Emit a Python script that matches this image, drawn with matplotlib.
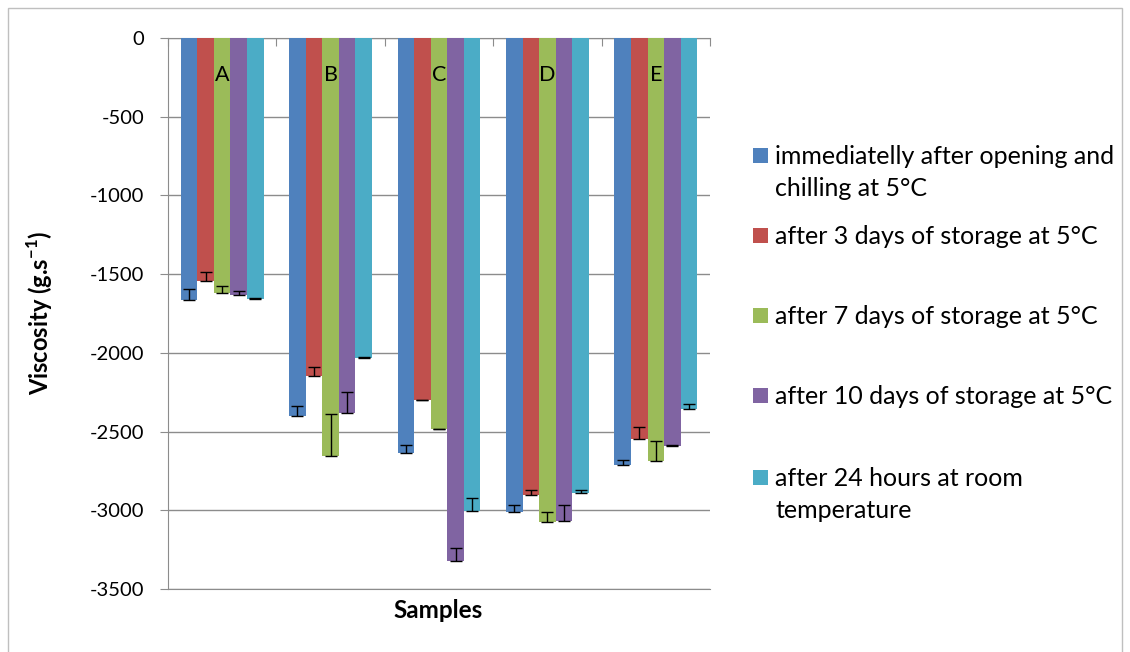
#!/usr/bin/env python3

import matplotlib
matplotlib.use('Agg')

import matplotlib.pyplot as plt
import numpy as np
from matplotlib.patches import Rectangle


samples = ['A', 'B', 'C', 'D', 'E']

series_labels = [
    'immediatelly after opening and\nchilling at 5°C',
    'after 3 days of storage at 5°C',
    'after 7 days of storage at 5°C',
    'after 10 days of storage at 5°C',
    'after 24 hours at room\ntemperature',
]

visc_open = [-1665, -2400, -2635, -3010, -2710]
visc_3d = [-1545, -2150, -2300, -2905, -2548]
visc_7d = [-1620, -2655, -2485, -3075, -2685]
visc_10d = [-1635, -2385, -3320, -3070, -2590]
visc_24h = [-1658, -2030, -3005, -2890, -2355]

err_open = [70, 62, 49, 42, 28]
err_3d = [57, 57, 3, 32, 78]
err_7d = [45, 265, 3, 65, 125]
err_10d = [25, 137, 81, 106, 5]
err_24h = [5, 5, 85, 19, 32]

yticks = list(range(-3500, 1, 500))

COLORS = ['#4F81BD', '#C0504D', '#9BBB59', '#8064A2', '#4BACC6']
GRAY = '#8C8C8C'
W, H = 1130, 652


def main():
    plt.rcParams['font.family'] = ['Lato', 'DejaVu Sans']
    plt.rcParams['axes.unicode_minus'] = False
    plt.rcParams['mathtext.fontset'] = 'custom'
    plt.rcParams['mathtext.rm'] = 'Lato'
    plt.rcParams['mathtext.bf'] = 'Lato:bold'

    fig = plt.figure(figsize=(W / 100, H / 100), dpi=100)
    ax = fig.add_axes([168 / W, 1 - 589 / H, (710 - 168) / W, (589 - 38) / H])

    values = [visc_open, visc_3d, visc_7d, visc_10d, visc_24h]
    errors = [err_open, err_3d, err_7d, err_10d, err_24h]

    xs = np.arange(len(samples))
    width = 0.153
    for j, (vals, errs) in enumerate(zip(values, errors)):
        xpos = xs + (j - 2) * width
        ax.bar(xpos, vals, width, color=COLORS[j], zorder=3)
        # error bars only point towards zero
        ax.errorbar(xpos, vals, yerr=[np.zeros(len(errs)), errs], fmt='none',
                    ecolor='black', elinewidth=1, capsize=4, capthick=1,
                    zorder=4)

    for i, s in enumerate(samples):
        ax.text(i, -235, s, ha='center', va='center', fontsize=15.5, zorder=5)

    ax.set_xlim(-0.5, len(samples) - 0.5)
    ax.set_ylim(-3500, 0)
    ax.set_yticks(yticks)
    ax.set_yticklabels([str(t) for t in yticks], fontsize=14.5)
    ax.xaxis.set_ticks_position('top')
    ax.set_xticks(np.arange(-0.5, len(samples), 1))
    ax.set_xticklabels([])
    ax.tick_params(axis='x', direction='in', length=6, color=GRAY)
    ax.tick_params(axis='y', direction='out', length=6, color=GRAY, pad=11)

    ax.grid(axis='y', color=GRAY, linewidth=1, zorder=0)
    for side in ['top', 'left', 'bottom']:
        ax.spines[side].set_color(GRAY)
    ax.spines['right'].set_visible(False)

    fig.text(40 / W, 1 - 313 / H, r'Viscosity (g.s$^{\mathbf{-1}}$)',
             rotation=90, ha='center', va='center', fontsize=17,
             fontweight='bold')
    fig.text(438 / W, 1 - 610 / H, 'Samples', ha='center', va='center',
             fontsize=17.5, fontweight='bold')

    # legend drawn by hand to keep the wide spacing of the original
    first_lines = [155, 235, 315, 395, 477]
    for j, label in enumerate(series_labels):
        y = first_lines[j]
        fig.patches.append(Rectangle((753 / W, 1 - (y + 7.5) / H), 15 / W, 15 / H,
                                     transform=fig.transFigure,
                                     facecolor=COLORS[j], edgecolor='none'))
        fig.text(775 / W, 1 - (y - 10) / H, label, ha='left', va='top',
                 fontsize=18, linespacing=1.49)

    fig.patches.append(Rectangle((8 / W, -0.1), (1122 - 8) / W, 1 - 8 / H + 0.1,
                                 transform=fig.transFigure, fill=False,
                                 edgecolor='#BFBFBF', linewidth=1))

    plt.savefig('out.png', dpi=100)
    plt.close()


if __name__ == "__main__":
    main()
